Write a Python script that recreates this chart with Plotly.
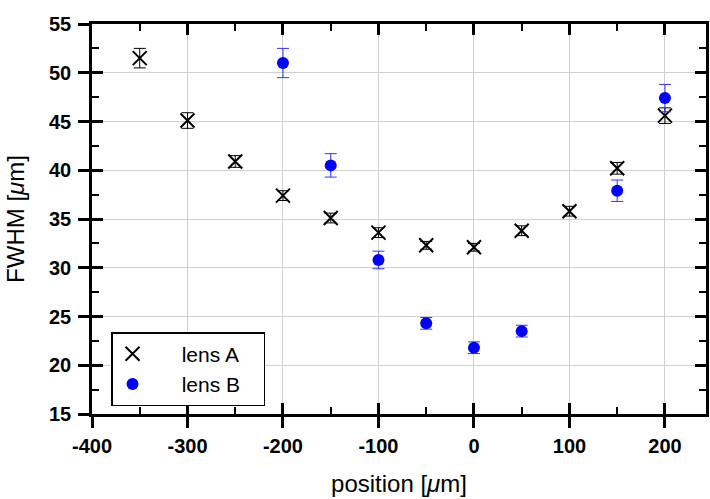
import plotly.graph_objects as go

pos_a = [-350, -300, -250, -200, -150, -100, -50, 0, 50, 100, 150, 200]
fwhm_a = [51.5, 45.1, 40.9, 37.4, 35.1, 33.6, 32.3, 32.1, 33.8, 35.8, 40.2, 45.6]
err_a = [1.0, 0.8, 0.6, 0.5, 0.5, 0.5, 0.4, 0.4, 0.5, 0.5, 0.6, 0.8]

pos_b = [-200, -150, -100, -50, 0, 50, 150, 200]
fwhm_b = [51.0, 40.5, 30.8, 24.3, 21.8, 23.5, 37.9, 47.4]
err_b = [1.5, 1.2, 0.9, 0.6, 0.6, 0.6, 1.1, 1.4]

x_ticks = [-400, -300, -200, -100, 0, 100, 200]
x_labels = ["-400", "-300", "-200", "-100", "0", "100", "200"]
y_ticks = [15, 20, 25, 30, 35, 40, 45, 50, 55]
y_labels = ["15", "20", "25", "30", "35", "40", "45", "50", "55"]

FONT = "Arial, Liberation Sans, sans-serif"
XR = [-400, 243]
YR = [15, 55]
NB = "\u00a0"

fig = go.Figure()
fig.add_trace(go.Scatter(
    x=pos_a, y=fwhm_a, mode="markers", name=NB * 5 + "lens A" + NB * 3,
    marker=dict(symbol="x-thin", size=14, color="black", line=dict(width=2, color="black")),
    error_y=dict(type="data", array=err_a, color="black", thickness=1, width=6),
))
fig.add_trace(go.Scatter(
    x=pos_b, y=fwhm_b, mode="markers", name=NB * 5 + "lens B" + NB * 3,
    marker=dict(symbol="circle", size=12, color="#0000ff"),
    error_y=dict(type="data", array=err_b, color="#3333ff", thickness=1, width=6),
))

axis_common = dict(showline=True, linecolor="black", linewidth=2.5, zeroline=False,
                   tickcolor="black", tickwidth=2.5, ticklen=11)

fig.update_layout(
    width=710, height=499,
    margin=dict(l=92, r=1, t=24, b=85),
    paper_bgcolor="white", plot_bgcolor="white",
    font=dict(family=FONT, color="black"),
    xaxis=dict(range=XR, tickvals=x_ticks, ticktext=["<b>%s</b>" % t for t in x_labels],
               ticks="inside", mirror="ticks", ticklabelstandoff=12,
               showgrid=True, gridcolor="#d0d0d0", gridwidth=1,
               tickfont=dict(size=20, family=FONT),
               minor=dict(dtick=50, tick0=-350, ticks="inside", ticklen=7, tickwidth=2, tickcolor="black", showgrid=False),
               title=dict(text="position [<i>μ</i>m]", font=dict(size=24, family=FONT), standoff=20),
               **axis_common),
    yaxis=dict(range=YR, tickvals=y_ticks, ticktext=["<b>%s</b>" % t for t in y_labels],
               ticks="inside", mirror="ticks", ticklabelstandoff=14,
               showgrid=True, gridcolor="#d0d0d0", gridwidth=1,
               tickfont=dict(size=20, family=FONT),
               minor=dict(dtick=2.5, tick0=15, ticks="inside", ticklen=7, tickwidth=2, tickcolor="black", showgrid=False),
               title=dict(text="FWHM [<i>μ</i>m]", font=dict(size=24, family=FONT), standoff=18),
               **axis_common),
    xaxis2=dict(overlaying="x", matches="x", range=XR, tickvals=x_ticks, ticks="outside",
                showticklabels=False, showgrid=False, side="bottom", **axis_common),
    yaxis2=dict(overlaying="y", matches="y", range=YR, tickvals=y_ticks, ticks="outside",
                showticklabels=False, showgrid=False, side="left", **axis_common),
    showlegend=True,
    legend=dict(x=0.031, y=0.21, xanchor="left", yanchor="top",
                bgcolor="white", bordercolor="black", borderwidth=1.5,
                font=dict(size=21, family=FONT), tracegroupgap=0),
)
fig.add_trace(go.Scatter(x=[None], y=[None], xaxis="x2", yaxis="y2", showlegend=False, hoverinfo="skip"))

fig.write_html("out.html")
